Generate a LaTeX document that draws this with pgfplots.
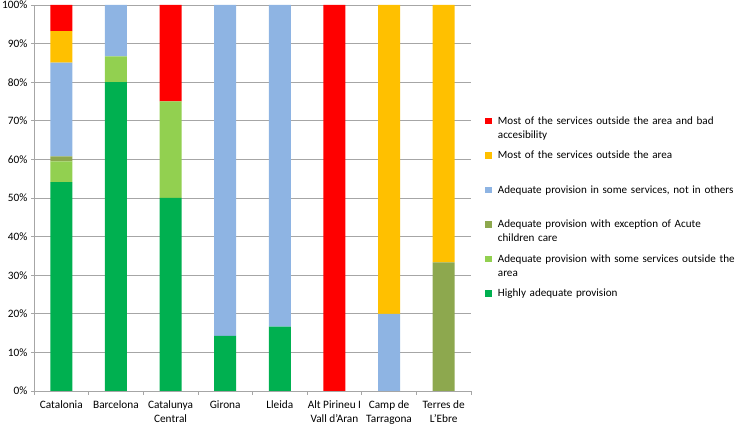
\documentclass[border=0pt]{standalone}
\usepackage{pgfplots}
\pgfplotsset{compat=1.18}
\usepackage{pgfplotstable}
\usepackage{fontspec}
\setmainfont{Carlito}
\definecolor{cRed}{HTML}{FF0000}
\definecolor{cOrange}{HTML}{FFC000}
\definecolor{cBlue}{HTML}{8EB4E3}
\definecolor{cOlive}{HTML}{8DA84E}
\definecolor{cLGreen}{HTML}{92D050}
\definecolor{cGreen}{HTML}{00B050}
\definecolor{gridgray}{HTML}{A6A6A6}
\pgfplotstableread{
x green lgreen olive blue orange red
0 54.1 5.4 1.3 24.3 8.1 6.8
1 80 6.7 0 13.3 0 0
2 50 25 0 0 0 25
3 14.3 0 0 85.7 0 0
4 16.7 0 0 83.3 0 0
5 0 0 0 0 0 100
6 0 0 0 20 80 0
7 0 0 33.3 0 66.7 0
}\datatable
\begin{document}
\begin{tikzpicture}[font=\fontsize{11.3bp}{13.8bp}\selectfont]
\begin{axis}[
  scale only axis, width=437bp, height=386bp,
  ybar stacked, bar width=22bp,
  xmin=-0.5, xmax=7.5, ymin=0, ymax=100,
  xtick={0,...,7},
  xticklabels={Catalonia, Barcelona, {Catalunya\\Central}, Girona, Lleida, {Alt Pirineu I\\Vall d'Aran}, {Camp de\\Tarragona}, {Terres de\\L'Ebre}},
  xticklabel style={align=center, yshift=-3bp},
  major x tick style={draw=none},
  minor xtick={-0.5,0.5,...,7.5},
  minor tick length=4bp,
  major tick length=3bp,
  tick align=outside,
  tick style={gridgray, line width=0.75bp},
  ytick={0,10,...,100},
  yticklabel={\pgfmathprintnumber{\tick}\%},
  /pgf/number format/assume math mode=true,
  ymajorgrids, grid style={color=gridgray, line width=0.75bp},
  axis x line*=bottom, axis y line*=left,
  axis line style={gridgray, line width=0.75bp},
  every axis plot/.append style={draw=none},
  reverse legend,
  legend image code/.code={\fill[#1] (0bp,0bp) rectangle (6.7bp,6.7bp);},
  legend style={draw=none, fill=none, at={(1,0.715)}, anchor=north west,
    xshift=14bp, inner sep=0pt, outer sep=0pt, row sep=0pt, column sep=5bp,
    font=\fontsize{11.1bp}{13.7bp}\selectfont,
    cells={anchor=base west},
    nodes={text width=270bp, align=left, text height=8.2bp, text depth=23.8bp, inner sep=1.25bp}},
]
\addplot+[fill=cGreen] table[x=x,y=green]{\datatable};
\addlegendentry{Highly adequate provision}
\addplot+[fill=cLGreen] table[x=x,y=lgreen]{\datatable};
\addlegendentry{Adequate provision with some services outside the\\area}
\addplot+[fill=cOlive] table[x=x,y=olive]{\datatable};
\addlegendentry{Adequate provision with exception of Acute\\children care}
\addplot+[fill=cBlue] table[x=x,y=blue]{\datatable};
\addlegendentry{Adequate provision in some services, not in others}
\addplot+[fill=cOrange] table[x=x,y=orange]{\datatable};
\addlegendentry{Most of the services outside the area}
\addplot+[fill=cRed] table[x=x,y=red]{\datatable};
\addlegendentry{Most of the services outside the area and bad\\accesibility}
\end{axis}
\pgfresetboundingbox
\path (current axis.south west) ++(-34bp,-36bp) rectangle ++(735bp,427bp);
\end{tikzpicture}
\end{document}
